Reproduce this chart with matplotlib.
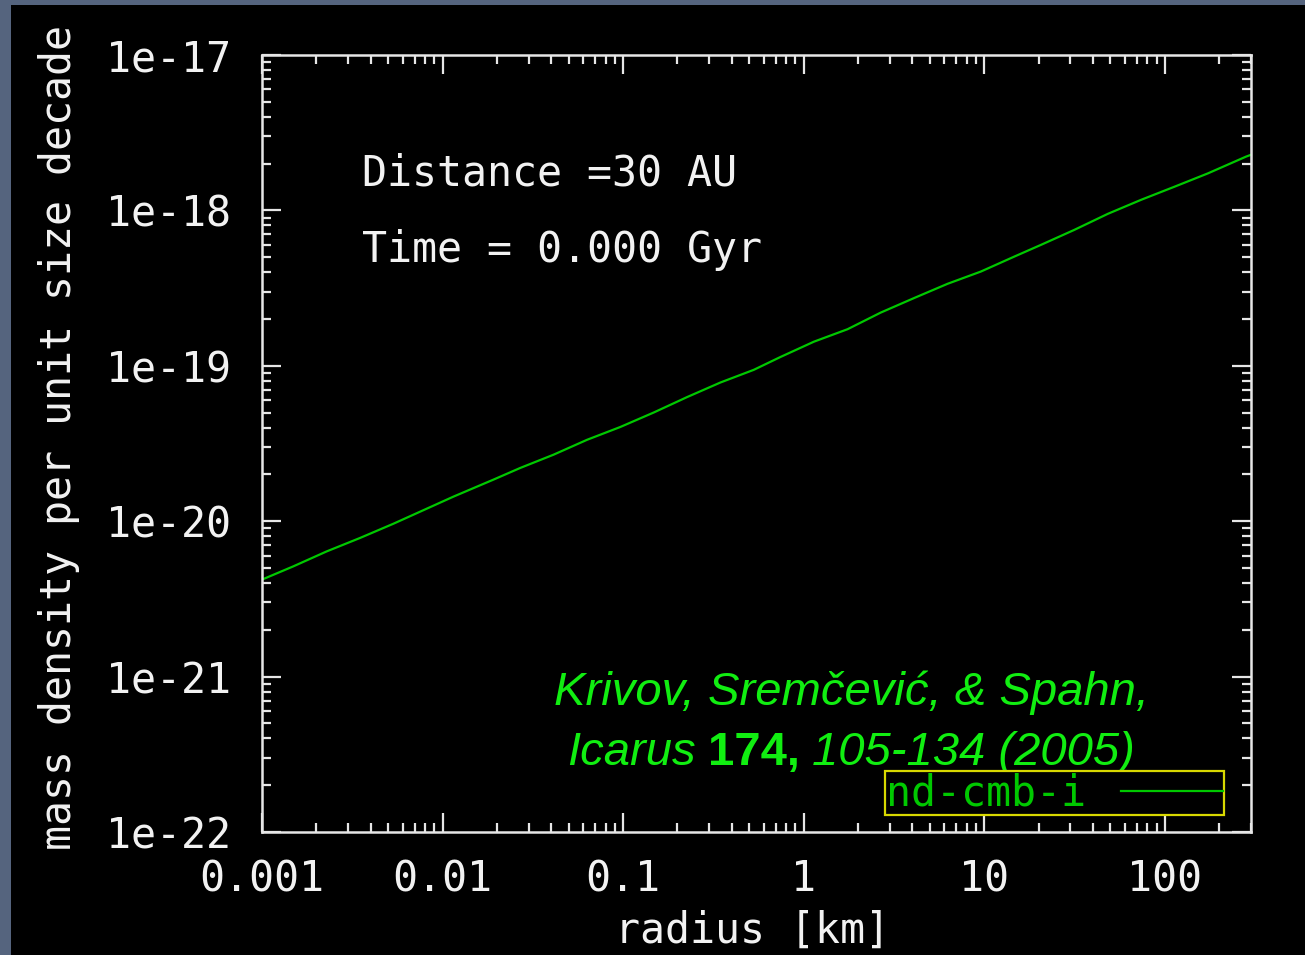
import matplotlib
matplotlib.use("Agg")
import matplotlib.pyplot as plt
from matplotlib.patches import Rectangle
from matplotlib.offsetbox import TextArea, HPacker, AnnotationBbox

# values
radius = [0.001, 0.00149, 0.00228, 0.00349, 0.00534, 0.0115, 0.0191, 0.0269,
          0.0412, 0.0631, 0.0965, 0.148, 0.226, 0.346, 0.529, 0.744, 1.14,
          1.75, 2.67, 4.09, 6.26, 9.57, 14.7, 20.6, 31.5, 48.3, 73.9, 113,
          173, 282, 300]
density = [4.21e-21, 5.12e-21, 6.39e-21, 7.80e-21, 9.63e-21, 1.44e-20, 1.85e-20,
           2.20e-20, 2.68e-20, 3.34e-20, 4.04e-20, 5.01e-20, 6.29e-20, 7.81e-20,
           9.42e-20, 1.14e-19, 1.43e-19, 1.72e-19, 2.20e-19, 2.73e-19, 3.37e-19,
           4.04e-19, 5.05e-19, 6.00e-19, 7.49e-19, 9.50e-19, 1.17e-18, 1.42e-18,
           1.73e-18, 2.22e-18, 2.28e-18]
series_name = "nd-cmb-i"
xticks = [0.001, 0.01, 0.1, 1, 10, 100]
xticklabels = ["0.001", "0.01", "0.1", "1", "10", "100"]
yticks = [1e-22, 1e-21, 1e-20, 1e-19, 1e-18, 1e-17]
yticklabels = ["1e-22", "1e-21", "1e-20", "1e-19", "1e-18", "1e-17"]

mono = "DejaVu Sans Mono"
fs = 30
fg = "#f2f2f2"

fig = plt.figure(figsize=(13.05, 9.55), dpi=100)
fig.patch.set_facecolor("#55647e")
fig.patches.append(Rectangle((11 / 1305, 0), 1, 1 - 5 / 955, transform=fig.transFigure,
                             facecolor="black", edgecolor="none", zorder=-10))

ax = fig.add_axes([262 / 1305, 1 - 832 / 955, 989 / 1305, 777 / 955])
ax.set_facecolor("black")
ax.plot(radius, density, color="#00c800", lw=1.6, label=series_name)
ax.set_xscale("log")
ax.set_yscale("log")
ax.set_xlim(0.001, 300)
ax.set_ylim(1e-22, 1e-17)

for s in ax.spines.values():
    s.set_color("#e6e6e6")
    s.set_linewidth(1.8)

ax.set_xticks(xticks)
ax.set_xticklabels(xticklabels)
ax.set_yticks(yticks)
ax.set_yticklabels(yticklabels)
ax.tick_params(which="both", direction="in", top=True, right=True, colors="#e6e6e6",
               labelcolor=fg, labelsize=fs)
ax.tick_params(which="major", length=14, width=1.6)
ax.tick_params(which="minor", length=6.5, width=1.6)
ax.tick_params(axis="x", which="major", pad=19)
ax.tick_params(axis="y", which="major", pad=22)
for lab in ax.get_xticklabels() + ax.get_yticklabels():
    lab.set_family(mono)

ax.set_xlabel("radius [km]", family=mono, fontsize=fs, color=fg)
ax.set_ylabel("mass density per unit size decade", family=mono, fontsize=fs, color=fg)
ax.xaxis.set_label_coords(0.496, -0.1)
ax.yaxis.set_label_coords(-0.184, 0.508)

ax.text(0.101, 0.832, "Distance =30 AU", transform=ax.transAxes, family=mono,
        fontsize=fs, color=fg, va="baseline")
ax.text(0.101, 0.733, "Time = 0.000 Gyr", transform=ax.transAxes, family=mono,
        fontsize=fs, color=fg, va="baseline")

cit = "#11ee11"
cfs = 34
ax.text(0.5956, 0.163, "Krivov, Sremčević, & Spahn,", transform=ax.transAxes,
        family="Liberation Sans", style="italic", fontsize=cfs, color=cit,
        ha="center", va="baseline")
parts = [TextArea("Icarus", textprops=dict(family="Liberation Sans", style="italic", fontsize=cfs, color=cit)),
         TextArea("174,", textprops=dict(family="Liberation Sans", weight="bold", fontsize=cfs, color=cit)),
         TextArea("105-134 (2005)", textprops=dict(family="Liberation Sans", style="italic", fontsize=cfs, color=cit))]
box = HPacker(children=parts, align="baseline", pad=0, sep=9)
ab = AnnotationBbox(box, (0.5956, 0.074), xycoords="axes fraction", box_alignment=(0.5, 0.0),
                    frameon=False, pad=0)
ax.add_artist(ab)

leg = ax.legend(loc="lower left", bbox_to_anchor=(885 / 1305, 1 - 815 / 955),
                bbox_transform=fig.transFigure, borderaxespad=0, markerfirst=False,
                prop=dict(family=mono, size=fs), handlelength=2.45, handletextpad=0.85,
                borderpad=0.02, fancybox=False, framealpha=1, facecolor="black",
                edgecolor="#d8d800")
leg.get_frame().set_linewidth(1.6)
for t in leg.get_texts():
    t.set_color("#00c800")

fig.savefig("out.png", dpi=100, facecolor=fig.get_facecolor())
